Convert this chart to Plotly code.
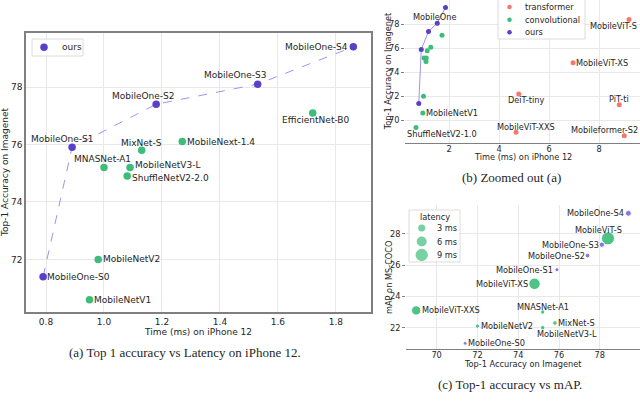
import math
import plotly.graph_objects as go

W, H = 640, 412

# ---- data ----
ours_names = ['MobileOne-S0', 'MobileOne-S1', 'MobileOne-S2', 'MobileOne-S3', 'MobileOne-S4']
ours_latency = [0.79, 0.89, 1.18, 1.53, 1.86]
ours_top1 = [71.4, 75.9, 77.4, 78.1, 79.4]
ours_map = [21.0, 25.7, 26.6, 27.3, 29.3]

conv_names = ['MobileNetV1', 'MobileNetV2', 'MNASNet-A1', 'MobileNetV3-L', 'ShuffleNetV2-2.0',
              'MixNet-S', 'MobileNext-1.4', 'EfficientNet-B0', 'ShuffleNetV2-1.0']
conv_latency = [0.95, 0.98, 1.00, 1.09, 1.08, 1.13, 1.27, 1.72, 0.68]
conv_top1 = [70.6, 72.0, 75.2, 75.2, 74.9, 75.8, 76.1, 77.1, 69.4]

trans_names = ['MobileViT-S', 'MobileViT-XS', 'DeiT-tiny', 'PiT-ti', 'MobileViT-XXS', 'Mobileformer-S2']
trans_latency = [9.2, 6.96, 4.79, 8.81, 4.68, 9.01]
trans_top1 = [78.4, 74.8, 72.2, 71.3, 69.0, 68.7]

det_names = ['MobileViT-S', 'MobileViT-XS', 'MobileViT-XXS', 'MNASNet-A1', 'MixNet-S',
             'MobileNetV2', 'MobileNetV3-L']
det_map = [27.7, 24.8, 23.1, 23.0, 22.3, 22.1, 22.0]

legend_latency = [3, 6, 9]

# ---- styling ----
FONT = 'DejaVu Sans'
SERIF = 'Liberation Serif'
TXT = '#262626'
PURPLE = '#5a3fc8'
GREEN = '#3dbd7a'
RED = '#f8766d'
LINE = '#9f93f2'
GRID = '#e8e8e8'
SPINE = '#808080'


def px(x):
    return x / W


def py(y):
    return 1 - y / H


def bubble(lat):
    return 4.33 * math.sqrt(lat)


lat = dict(zip(ours_names + conv_names + trans_names, ours_latency + conv_latency + trans_latency))
top1 = dict(zip(ours_names + conv_names + trans_names, ours_top1 + conv_top1 + trans_top1))
mAP = dict(zip(ours_names + det_names, ours_map + det_map))

det_top1 = [top1[n] for n in det_names]
det_lat = [lat[n] for n in det_names]

fig = go.Figure()

# (a) zoomed-in latency vs accuracy
fig.add_trace(go.Scatter(x=ours_latency, y=ours_top1, mode='lines', xaxis='x', yaxis='y',
                         line=dict(color=LINE, width=1, dash='dash'), hoverinfo='skip'))
fig.add_trace(go.Scatter(x=conv_latency, y=conv_top1, mode='markers', xaxis='x', yaxis='y',
                         text=conv_names, marker=dict(color=GREEN, size=7.5)))
fig.add_trace(go.Scatter(x=ours_latency, y=ours_top1, mode='markers', xaxis='x', yaxis='y',
                         text=ours_names, marker=dict(color=PURPLE, size=7.5)))

# (b) zoomed out
fig.add_trace(go.Scatter(x=trans_latency, y=trans_top1, mode='markers', xaxis='x2', yaxis='y2',
                         text=trans_names, marker=dict(color=RED, size=5)))
fig.add_trace(go.Scatter(x=conv_latency, y=conv_top1, mode='markers', xaxis='x2', yaxis='y2',
                         text=conv_names, marker=dict(color=GREEN, size=5)))
fig.add_trace(go.Scatter(x=ours_latency, y=ours_top1, mode='lines+markers', xaxis='x2', yaxis='y2',
                         text=ours_names, line=dict(color=LINE, width=1),
                         marker=dict(color=PURPLE, size=5)))

# (c) accuracy vs mAP, sized by latency
fig.add_trace(go.Scatter(x=det_top1, y=det_map, mode='markers', xaxis='x3', yaxis='y3',
                         text=det_names,
                         marker=dict(color=GREEN, opacity=0.9, size=[bubble(v) for v in det_lat])))
fig.add_trace(go.Scatter(x=ours_top1, y=ours_map, mode='markers', xaxis='x3', yaxis='y3',
                         text=ours_names,
                         marker=dict(color=PURPLE, size=[bubble(v) for v in ours_latency])))


def axis(domain, rng, tickvals, anchor, size, fmt=None, box=False, bottom=False, ticks='', standoff=0):
    d = dict(domain=domain, range=rng, tickvals=tickvals, anchor=anchor,
             showgrid=True, gridcolor=GRID, gridwidth=1, zeroline=False,
             tickfont=dict(family=FONT, size=size, color=TXT), fixedrange=True,
             ticks=ticks, ticklen=3, tickcolor=SPINE, ticklabelstandoff=standoff)
    if fmt:
        d['tickformat'] = fmt
    if box:
        d.update(showline=True, mirror=True, linecolor=SPINE, linewidth=1.5)
    elif bottom:
        d.update(showline=True, linecolor=SPINE, linewidth=1)
    return d


fig.update_layout(
    width=W, height=H, margin=dict(l=0, r=0, t=0, b=0),
    paper_bgcolor='white', plot_bgcolor='white', showlegend=False,
    xaxis=axis([px(26), px(371)], [0.731, 1.921], [0.8, 1.0, 1.2, 1.4, 1.6, 1.8], 'y', 9, '.1f', box=True),
    yaxis=axis([py(312), py(33)], [70.17, 79.88], [72, 74, 76, 78], 'x', 9, box=True),
    xaxis2=axis([px(405), 1], [0.24, 9.64], [2, 4, 6, 8], 'y2', 8.2, bottom=True, standoff=-2),
    yaxis2=axis([py(142.7), 1], [68.13, 80.03], [70, 72, 74, 76, 78], 'x2', 8.2, ticks='outside'),
    xaxis3=axis([px(406), 1], [68.5, 79.97], [70, 72, 74, 76, 78], 'y3', 8.2, bottom=True, standoff=-2),
    yaxis3=axis([py(349.3), py(205)], [20.62, 29.83], [22, 24, 26, 28], 'x3', 8.2, ticks='outside'),
)

ann = []
shapes = []

# point labels: name -> (xanchor, xshift, yshift)
labels_a = {
    'MobileOne-S0': ('left', 4, 0), 'MobileOne-S1': ('center', -10, 8),
    'MobileOne-S2': ('center', -13, 8), 'MobileOne-S3': ('center', -22, 9),
    'MobileOne-S4': ('right', -5, 0), 'MNASNet-A1': ('center', -1, 8),
    'MobileNetV3-L': ('left', 4.5, 2), 'ShuffleNetV2-2.0': ('left', 4.5, -2),
    'MixNet-S': ('center', 0, 7), 'MobileNext-1.4': ('left', 4.5, 0),
    'EfficientNet-B0': ('center', 3, -7.5), 'MobileNetV2': ('left', 4.5, 0),
    'MobileNetV1': ('left', 4.5, 0),
}
for n, (xa, xs, ys) in labels_a.items():
    ann.append(dict(x=lat[n], y=top1[n], xref='x', yref='y', text=n, showarrow=False,
                    xanchor=xa, yanchor='middle', xshift=xs, yshift=ys, borderpad=0, borderwidth=0,
                    font=dict(family=FONT, size=9, color=TXT)))

labels_b = {
    'MobileNetV1': ('left', 3, 0), 'ShuffleNetV2-1.0': ('left', -9, -6.7),
    'MobileViT-S': ('center', -16, -6), 'MobileViT-XS': ('left', 2.5, 0),
    'DeiT-tiny': ('center', 7, -6), 'PiT-ti': ('center', 0, 6),
    'MobileViT-XXS': ('center', 10, 5), 'Mobileformer-S2': ('center', -20, 5.6),
}
for n, (xa, xs, ys) in labels_b.items():
    ann.append(dict(x=lat[n], y=top1[n], xref='x2', yref='y2', text=n, showarrow=False,
                    xanchor=xa, yanchor='middle', xshift=xs, yshift=ys, borderpad=0, borderwidth=0,
                    font=dict(family=FONT, size=8.2, color=TXT)))
# family label for our line
ann.append(dict(x=lat['MobileOne-S4'], y=top1['MobileOne-S4'], xref='x2', yref='y2', text='MobileOne',
                showarrow=False, xanchor='center', yanchor='middle', xshift=-10.7, yshift=-9.7,
                borderpad=0, borderwidth=0, font=dict(family=FONT, size=8.2, color=TXT)))

labels_c = {
    'MobileOne-S4': ('right', -4, 0), 'MobileOne-S3': ('right', -3, 0),
    'MobileOne-S2': ('right', -2.5, 0), 'MobileOne-S1': ('right', -3.5, 0),
    'MobileOne-S0': ('left', 2.5, 0), 'MobileViT-S': ('center', -9, 8.7),
    'MobileViT-XS': ('right', -6.5, 0), 'MobileViT-XXS': ('left', 5.7, 0),
    'MNASNet-A1': ('center', 0, 5), 'MixNet-S': ('left', 3.3, 0),
    'MobileNetV2': ('left', 3.7, 0), 'MobileNetV3-L': ('left', -5.6, -6.3),
}
for n, (xa, xs, ys) in labels_c.items():
    ann.append(dict(x=top1[n], y=mAP[n], xref='x3', yref='y3', text=n, showarrow=False,
                    xanchor=xa, yanchor='middle', xshift=xs, yshift=ys, borderpad=0, borderwidth=0,
                    font=dict(family=FONT, size=8.2, color=TXT)))


def text(x, y, s, size, family=FONT, angle=0, xanchor='center', yanchor='middle', color=TXT):
    ann.append(dict(x=px(x), y=py(y), xref='paper', yref='paper', text=s, showarrow=False,
                    xanchor=xanchor, yanchor=yanchor, textangle=angle, borderpad=0, borderwidth=0,
                    font=dict(family=family, size=size, color=color)))


# axis titles
text(198, 331.7, 'Time (ms) on iPhone 12', 9)
text(4.5, 172.5, 'Top-1 Accuracy on Imagenet', 9, angle=-90)
text(522.5, 156.7, 'Time (ms) on iPhone 12', 8.2)
text(388, 71.3, 'Top-1 Accuracy on Imagenet', 8.2, angle=-90)
text(522.8, 363.5, 'Top-1 Accuracy on Imagenet', 8.2)
text(388.5, 277.5, 'mAP on MS-COCO', 8.2, angle=-90)

# captions
text(185, 352.7, '(a) Top 1 accuracy vs Latency on iPhone 12.', 13, SERIF)
text(511.7, 177.7, '(b) Zoomed out (a)', 13, SERIF)
text(509.7, 384.3, '(c) Top-1 accuracy vs mAP.', 13, SERIF)
text(0, 410, 'Figure 1: We show comparisons of Top-1 accuracy on image classification vs latency on an iPhone 12 (a), and',
     13, SERIF, xanchor='left', yanchor='top', color='#555555')


# hand-built legends
def legend_box(x0, y0, x1, y1):
    shapes.append(dict(type='rect', xref='paper', yref='paper', x0=px(x0), x1=px(x1), y0=py(y1), y1=py(y0),
                       fillcolor='rgba(255,255,255,0.85)', line=dict(color='#dcdcdc', width=1), layer='above'))


def legend_dot(x, y, d, color, opacity=1.0):
    r = d / 2
    shapes.append(dict(type='circle', xref='paper', yref='paper', xsizemode='pixel', ysizemode='pixel',
                       xanchor=px(x), yanchor=py(y), x0=-r, x1=r, y0=-r, y1=r,
                       fillcolor=color, opacity=opacity, line=dict(width=0), layer='above'))


legend_box(32, 39, 83, 56)
legend_dot(44, 47.3, 7.5, PURPLE)
text(61.7, 47.3, 'ours', 9, xanchor='left')

legend_box(498, -2, 585, 39)
for i, (name, col) in enumerate([('transformer', RED), ('convolutional', GREEN), ('ours', PURPLE)]):
    yy = 7 + i * 12.65
    legend_dot(509.5, yy, 4.5, col)
    text(525, yy, name, 8.2, xanchor='left')

legend_box(409, 210, 460, 262)
text(435, 217, 'latency', 8.2)
for i, v in enumerate(legend_latency):
    yy = 228 + i * 13.5
    legend_dot(421.7, yy, bubble(v) * 0.95, GREEN, 0.7)
    text(436.7, yy, f'{v} ms', 8.2, xanchor='left')

fig.update_layout(annotations=ann, shapes=shapes)
fig.write_html("out.html", config={'displayModeBar': False},
               post_script="document.body.style.margin='0';document.body.style.overflow='hidden';")
